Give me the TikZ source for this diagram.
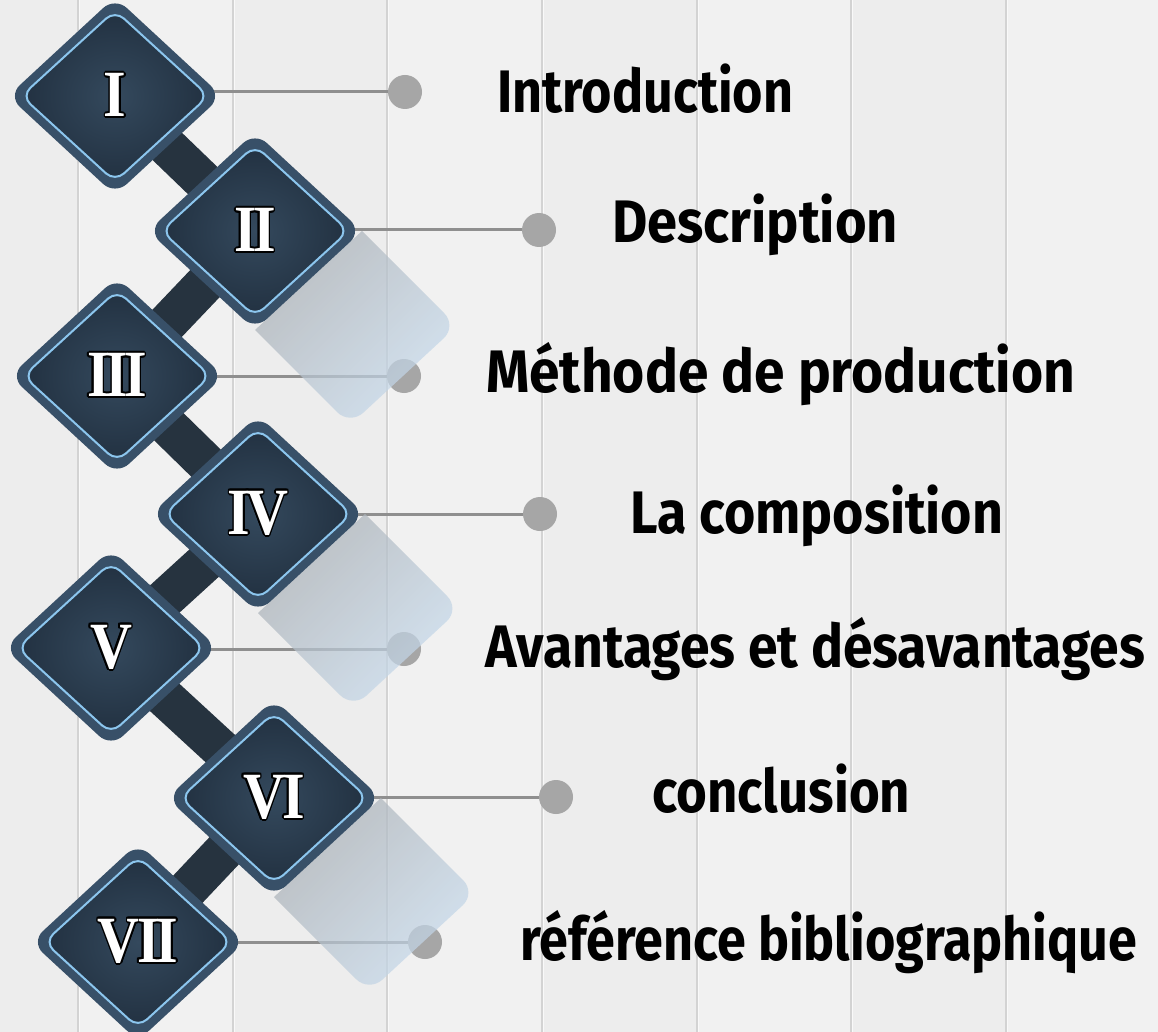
\documentclass[tikz,border=0pt]{standalone}
\usepackage{fontspec}
\usepackage{graphicx}
\usepackage{contour}
\setmainfont{Liberation Serif}
\newfontfamily\lblfont{Fira Sans}
\usetikzlibrary{calc,shapes.geometric}
\definecolor{bgcol}{HTML}{EEEEEE}
\definecolor{plankA}{HTML}{F1F1F1}
\definecolor{plankB}{HTML}{EDEDED}
\definecolor{seamcol}{HTML}{D3D3D3}
\definecolor{seamhi}{HTML}{F9F9F9}
\definecolor{barcol}{HTML}{26333F}
\definecolor{ring}{HTML}{385068}
\definecolor{core}{HTML}{34495D}
\definecolor{coredark}{HTML}{223141}
\definecolor{rim}{HTML}{8CC6EE}
\definecolor{linecol}{HTML}{8F8F8F}
\definecolor{dotcol}{HTML}{A6A6A6}
\definecolor{shnear}{HTML}{A9AEB3}
\definecolor{shfar}{HTML}{C8DDF0}
\contourlength{1.8pt}
\newcommand\fitw[2]{\resizebox{#1}{\height}{#2}}
\newcommand\numtext[1]{\scalebox{0.88}[1]{\contour{black}{#1}}}
\begin{document}
\begin{tikzpicture}[x=1pt,y=-1pt,
  dout/.style={diamond, minimum width=214pt, minimum height=198pt, inner sep=0pt, fill=ring, rounded corners=16pt},
  din/.style={diamond, minimum width=188pt, minimum height=172pt, inner sep=0pt, draw=rim, line width=2pt, inner color=core, outer color=coredark, rounded corners=12pt},
  num/.style={text=white, inner sep=0pt, font=\bfseries\fontsize{66}{66}\selectfont},
  lbl/.style={anchor=base west, inner sep=0pt, text=black, font=\lblfont\bfseries\fontsize{60}{60}\selectfont},
  hl/.style={draw=linecol, line width=3pt},
  dot/.style={circle, fill=dotcol, minimum size=34pt, inner sep=0pt},
  barline/.style={draw=barcol, line width=40pt},
  seam/.style={draw=seamcol, line width=1.5pt},
  seamlight/.style={draw=seamhi, line width=1.5pt},
  shadowband/.style={top color=shnear, bottom color=shfar, shading angle=45, opacity=0.72}
]
\useasboundingbox (0,0) rectangle (1158,1032);
% wooden background
\fill[bgcol] (0,0) rectangle (1158,1032);
\foreach \xa/\xb/\c in {0/78/plankB, 78/233/plankA, 233/387/plankB, 387/542/plankA, 542/697/plankB, 697/851/plankA, 851/1006/plankB, 1006/1158/plankA}
  \fill[\c] (\xa,0) rectangle (\xb,1032);
\foreach \x in {78,233,387,542,697,851,1006} {
  \draw[seam] (\x,0) -- (\x,1032);
  \draw[seamlight] (\x+1.5,0) -- (\x+1.5,1032);
}
% centres and dot positions
\coordinate (c1) at (115,96);
\coordinate (c2) at (255,231);
\coordinate (c3) at (117,376);
\coordinate (c4) at (258,514);
\coordinate (c5) at (111,648);
\coordinate (c6) at (274,798);
\coordinate (c7) at (138,942);
\coordinate (p1) at (405,92);
\coordinate (p2) at (539,230);
\coordinate (p3) at (404,376);
\coordinate (p4) at (540,514);
\coordinate (p5) at (404,649);
\coordinate (p6) at (556,797);
\coordinate (p7) at (425,942);
% bars between diamonds
\foreach \a/\b in {1/2,2/3,3/4,4/5,5/6,6/7}
  \draw[barline] (c\a) -- (c\b);
% leader lines and dots
\foreach \i in {1,...,7} {
  \draw[hl] (c\i |- p\i) -- (p\i);
  \node[dot] (dot\i) at (p\i) {};
}
% long shadows
\foreach \i in {2,4,6}
  \shade[shadowband] ($(c\i)+(0,99)$) -- ($(c\i)+(107,0)$) [rounded corners=18pt] -- ($(c\i)+(202,95)$) -- ($(c\i)+(95,194)$) [sharp corners] -- cycle;
% diamonds
\foreach \i/\t in {1/I, 2/{I\kern-4.5pt I}, 3/{I\kern-4.5pt I\kern-4.5pt I}, 4/{I\kern-4.5pt V}, 5/V, 6/{V\kern-3pt I}, 7/{V\kern-3pt I\kern-4.5pt I}} {
  \node[dout] (d\i) at (c\i) {};
  \node[din] (e\i) at (c\i) {};
  \node[num] (n\i) at (c\i) {\numtext{\t}};
}
% labels
\foreach \i/\x/\y/\w/\t in {1/497/113/296/Introduction, 2/612/243/286/Description, 3/486/392/589/Méthode de production, 4/630/533/373/La composition, 5/485/667/660/Avantages et désavantages, 6/652/812/258/conclusion, 7/520/960/617/référence bibliographique}
  \node[lbl] (t\i) at (\x,\y) {\fitw{\w pt}{\t}};
\end{tikzpicture}
\end{document}
